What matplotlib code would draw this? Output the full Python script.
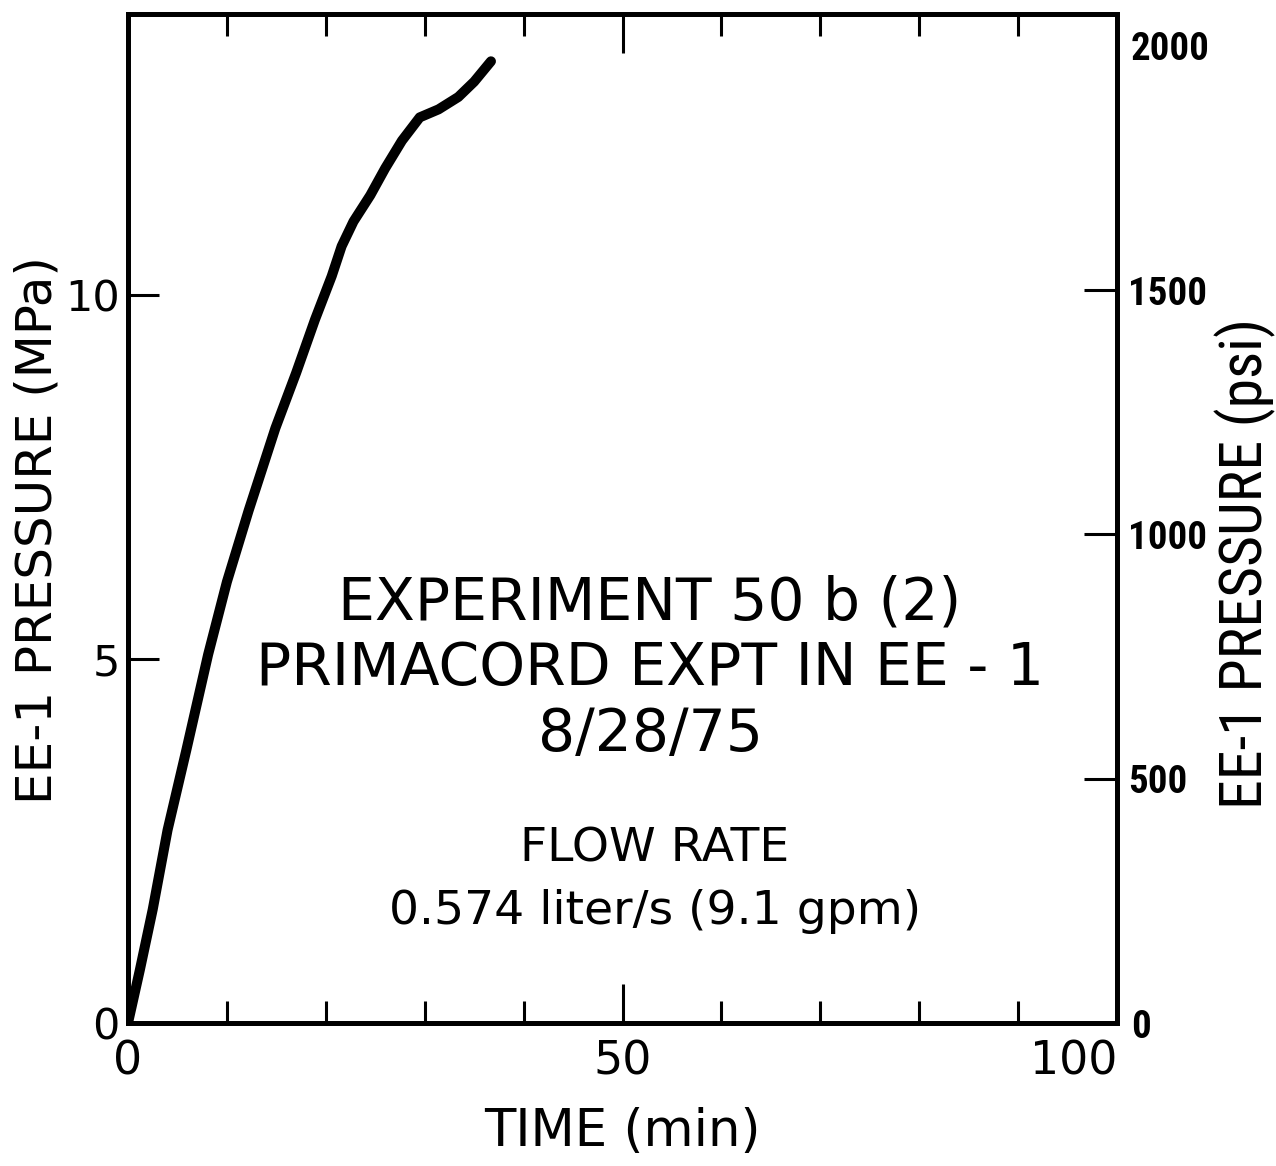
import matplotlib
matplotlib.use("Agg")
import matplotlib.pyplot as plt
from matplotlib import font_manager

# pressure build-up
time_min = [0, 1.2, 2.5, 4.0, 5.9, 8.1, 10.0, 12.2, 14.9, 17.0, 18.9, 20.6,
            21.6, 22.8, 24.5, 26.0, 27.7, 29.5, 31.4, 33.4, 35.0, 36.7]
pressure_mpa = [0, 0.73, 1.56, 2.65, 3.75, 5.06, 6.06, 7.04, 8.17, 8.93, 9.66, 10.26,
                10.67, 11.01, 11.37, 11.74, 12.12, 12.44, 12.55, 12.72, 12.93, 13.21]

x_major = [0, 50, 100]
x_minor = [10, 20, 30, 40, 60, 70, 80, 90]
mpa_ticks = [0, 5, 10]
psi_ticks = [500, 1000, 1500]
psi_ends = [0, 2000]

notes = ["EXPERIMENT 50 b (2)", "PRIMACORD EXPT IN EE - 1", "8/28/75"]
flow = ["FLOW RATE", "0.574 liter/s (9.1 gpm)"]


def _pick(names):
    """first installed family out of names"""
    for n in names:
        try:
            font_manager.findfont(n, fallback_to_default=False)
            return n
        except Exception:
            pass
    return "DejaVu Sans"


narrow = _pick(["Liberation Sans Narrow", "Roboto Condensed", "Open Sans Condensed",
                "DejaVu Sans Condensed", "DejaVu Sans"])
plt.rcParams["font.family"] = "DejaVu Sans"

fig = plt.figure(figsize=(12.76, 11.66), dpi=100)
ax = fig.add_axes([128 / 1276, 1 - 1023 / 1166, 989 / 1276, 1009 / 1166])
ax.plot(time_min, pressure_mpa, color="black", lw=7.2,
        solid_capstyle="round", solid_joinstyle="round")

ax.set_xlim(0, 100)
ax.set_ylim(0, 1009 / 72.8)
for s in ax.spines.values():
    s.set_linewidth(3.5)

ax.set_xticks(x_major)
ax.set_xticks(x_minor, minor=True)
ax.set_xticklabels([str(v) for v in x_major], fontsize=33)
ax.get_xticklabels()[-1].set_ha("right")
ax.set_yticks(mpa_ticks)
ax.set_yticklabels([str(v) for v in mpa_ticks], fontsize=31)
ax.tick_params(axis="x", which="major", direction="in", top=True, length=28,
               width=2.2, pad=12)
ax.tick_params(axis="x", which="minor", direction="in", top=True, length=16,
               width=2.2)
ax.tick_params(axis="y", which="major", direction="in", length=22, width=2.2,
               pad=6)

ax2 = ax.twinx()
ax2.set_ylim(0, 2065)
ax2.set_yticks(psi_ticks)
ax2.set_yticklabels([str(v) for v in psi_ticks], fontsize=28,
                    fontweight="bold", family=narrow)
ax2.set_yticks(psi_ends, minor=True)
ax2.set_yticklabels([str(v) for v in psi_ends], minor=True, fontsize=28,
                    fontweight="bold", family=narrow)
ax2.tick_params(axis="y", which="major", direction="in", length=24, width=2.2,
                pad=8)
ax2.tick_params(axis="y", which="minor", length=0, pad=10)
for s in ax2.spines.values():
    s.set_linewidth(3.5)

ax.set_xlabel("TIME (min)", fontsize=37, labelpad=16)
ax.set_ylabel("EE-1 PRESSURE (MPa)", fontsize=36, va="center")
ax.yaxis.set_label_coords(-0.092, 0.489)
ax2.set_ylabel("EE-1 PRESSURE (psi)", fontsize=43, family=narrow, va="center")
ax2.yaxis.set_label_coords(1.13, 0.455)

ys = [603, 668, 735]
for txt, y in zip(notes, ys):
    fig.text(650 / 1276, 1 - y / 1166, txt, fontsize=42, ha="center", va="center")
for txt, y in zip(flow, [849, 912]):
    fig.text(655 / 1276, 1 - y / 1166, txt, fontsize=34, ha="center", va="center")

fig.savefig("out.png", dpi=100, facecolor="white")
